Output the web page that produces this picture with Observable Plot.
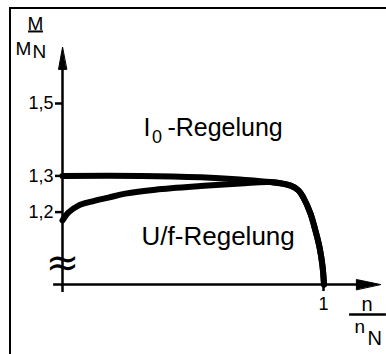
<!DOCTYPE html>
<html><head><meta charset="utf-8">
<script src="https://cdn.jsdelivr.net/npm/d3@7"></script>
<script src="https://cdn.jsdelivr.net/npm/@observablehq/plot@0.6"></script>
<style>
body{margin:0;background:#fff;}
#wrap{position:relative;width:386px;height:354px;overflow:hidden;}
#frame{position:absolute;left:9px;top:7px;right:-5px;bottom:-5px;border-left:2px solid #000;border-top:2px solid #000;pointer-events:none;}
</style></head><body>
<div id="wrap"><div id="chart"></div><div id="frame"></div></div>
<script>
// I0-Regelung (n/nN, M/MN)
const nI0 = [0, 0.30, 0.53, 0.68, 0.797, 0.874, 0.904, 0.923, 0.950, 0.969, 0.985, 0.996, 1.002];
const mI0 = [1.300, 1.300, 1.296, 1.290, 1.283, 1.273, 1.260, 1.240, 1.196, 1.149, 1.102, 1.052, 1.0];
// U/f-Regelung
const nUf = [0, 0.023, 0.061, 0.111, 0.176, 0.241, 0.356, 0.529, 0.682, 0.797, 0.874, 0.904, 0.923, 0.950, 0.969, 0.985, 0.996, 1.002];
const mUf = [1.177, 1.199, 1.218, 1.229, 1.240, 1.251, 1.262, 1.272, 1.279, 1.283, 1.273, 1.260, 1.240, 1.196, 1.149, 1.102, 1.052, 1.0];
// ticks
const yTicks = [1.2, 1.3, 1.5];
const xTicks = [1];
const labelI0 = ["I", "0", "-Regelung"];
const labelUf = "U/f-Regelung";

const I0 = nI0.map((n, i) => ({n, m: mI0[i]}));
const Uf = nUf.map((n, i) => ({n, m: mUf[i]}));
const fmt = d => String(d).replace(".", ",");

const triangle = {
  draw(ctx, l, r) { ctx.moveTo(0, -l); ctx.lineTo(-r, 0); ctx.lineTo(r, 0); ctx.closePath(); }
};
const font = "Liberation Sans, Arial, sans-serif";

const chart = Plot.plot({
  width: 386, height: 354,
  marginLeft: 62, marginBottom: 70, marginTop: 0, marginRight: 0,
  style: {fontFamily: font, fontSize: "18px", color: "#000", background: "#fff"},
  x: {domain: [0, 1], range: [62, 323]},
  y: {domain: [1, 1.5], range: [284, 103]},
  marks: [
    // axes lines
    Plot.ruleY([1], {x1: -0.034, x2: 1.14, strokeWidth: 2.5}),
    Plot.ruleX([0], {y1: 0.978, y2: 1.62, strokeWidth: 2.5}),
    Plot.vector([0], {x: 1.218, y: 1, rotate: 90, length: 24, r: 5, anchor: "end", shape: triangle, fill: "#000", stroke: "#000", strokeWidth: 1}),
    Plot.vector([0], {x: 0, y: 1.655, rotate: 0, length: 22, r: 4, anchor: "end", shape: triangle, fill: "#000", stroke: "#000", strokeWidth: 1}),
    Plot.axisY({ticks: yTicks, tickFormat: fmt, tickSize: 7, tickPadding: 2, fontSize: 18, strokeWidth: 2.5, label: null}),
    Plot.axisX({ticks: xTicks, tickFormat: d => String(d), tickSize: 7, tickPadding: 6, fontSize: 18, strokeWidth: 2.5, label: null}),
    // axis break
    Plot.text(["≈"], {x: 0, y: 1.058, fontSize: 40, fontFamily: "DejaVu Sans", lineAnchor: "middle", textAnchor: "middle"}),
    // curves
    Plot.line(I0, {x: "n", y: "m", strokeWidth: 6, curve: "catmull-rom", strokeLinejoin: "round"}),
    Plot.line(Uf, {x: "n", y: "m", strokeWidth: 6, curve: "catmull-rom", strokeLinejoin: "round"}),
    // curve labels
    Plot.text([labelI0[0]], {x: 0.310, y: 1.4116, fontSize: 25, textAnchor: "start", lineAnchor: "bottom"}),
    Plot.text([labelI0[1]], {x: 0.343, y: 1.392, fontSize: 18, textAnchor: "start", lineAnchor: "bottom"}),
    Plot.text([labelI0[2]], {x: 0.402, y: 1.4116, fontSize: 25, textAnchor: "start", lineAnchor: "bottom"}),
    Plot.text([labelUf], {x: 0.303, y: 1.108, fontSize: 26, textAnchor: "start", lineAnchor: "bottom"}),
    // y label M / M_N
    Plot.text(["M"], {x: -0.134, y: 1.704, fontSize: 19, textAnchor: "start", lineAnchor: "bottom"}),
    Plot.ruleY([1.699], {x1: -0.130, x2: -0.073, strokeWidth: 2}),
    Plot.text(["M"], {x: -0.180, y: 1.633, fontSize: 19, textAnchor: "start", lineAnchor: "bottom"}),
    Plot.text(["N"], {x: -0.115, y: 1.627, fontSize: 19, textAnchor: "start", lineAnchor: "bottom"}),
    // x label n / n_N
    Plot.text(["n"], {x: 1.146, y: 0.928, fontSize: 20, textAnchor: "start", lineAnchor: "bottom"}),
    Plot.ruleY([0.917], {x1: 1.10, x2: 1.241, strokeWidth: 2.5}),
    Plot.text(["n"], {x: 1.119, y: 0.867, fontSize: 19, textAnchor: "start", lineAnchor: "bottom"}),
    Plot.text(["N"], {x: 1.169, y: 0.834, fontSize: 20, textAnchor: "start", lineAnchor: "bottom"})
  ]
});
document.getElementById("chart").appendChild(chart);
</script>
</body></html>
